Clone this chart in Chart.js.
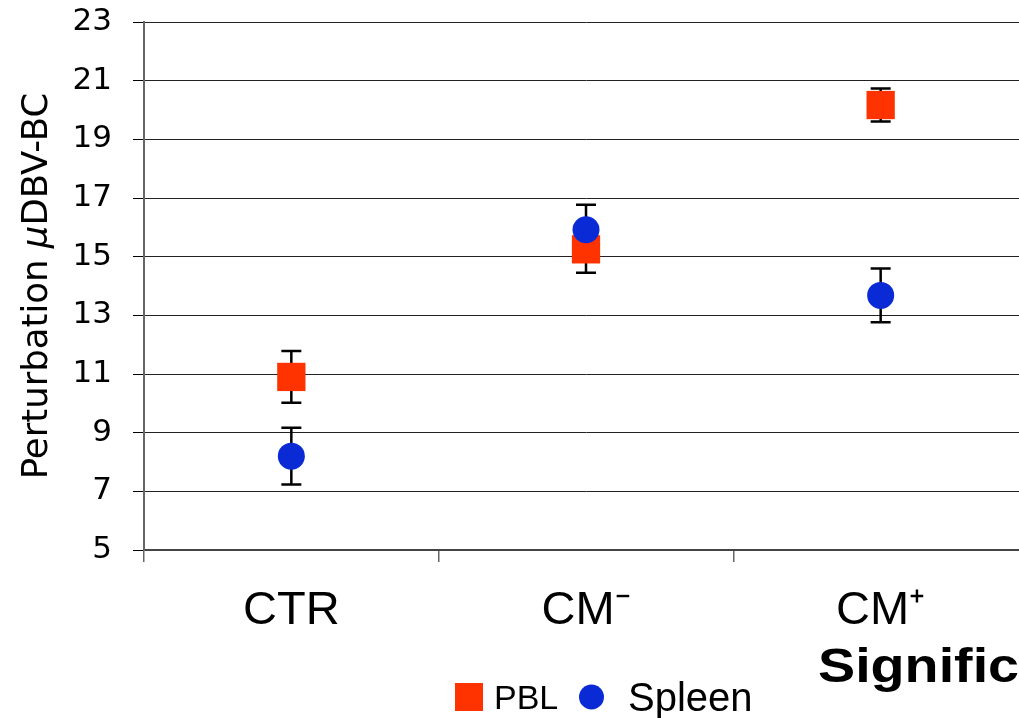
<!DOCTYPE html>
<html>
<head>
<meta charset="utf-8">
<script src="https://cdn.jsdelivr.net/npm/chart.js@4.4.1/dist/chart.umd.min.js"></script>
<style>
  html, body { margin: 0; padding: 0; background: #fff; overflow: hidden; width: 1019px; height: 718px; }
  #wrap { position: relative; width: 1040px; height: 718px; }
  #note {
    position: absolute; left: 818px; top: 638px;
    font: bold 48px "Liberation Sans", Arial, sans-serif;
    white-space: nowrap; transform-origin: 0 0; transform: scaleX(1.16);
  }
</style>
</head>
<body>
<div id="wrap">
  <canvas id="perturbChart" width="1040" height="718"></canvas>
  <div id="note">Significant</div>
</div>
<script>
const categories = ['CTR', 'CM\u207B', 'CM\u207A'];
const pblValues = [10.9, 15.25, 20.17];
const pblErrors = [0.88, 0.8, 0.56];
const spleenValues = [8.2, 15.92, 13.68];
const spleenErrors = [0.97, 0.85, 0.92];
const yTicks = [5, 7, 9, 11, 13, 15, 17, 19, 21, 23];

const errorBars = {
  id: 'errorBars',
  beforeDatasetsDraw(chart) {
    const ctx = chart.ctx;
    const y = chart.scales.y;
    ctx.save();
    ctx.strokeStyle = '#000';
    ctx.lineWidth = 2.5;
    chart.data.datasets.forEach((ds, i) => {
      const meta = chart.getDatasetMeta(i);
      meta.data.forEach((pt, j) => {
        const v = ds.data[j], e = ds.errors[j];
        const top = y.getPixelForValue(v + e);
        const bot = y.getPixelForValue(v - e);
        ctx.beginPath();
        ctx.moveTo(pt.x, top); ctx.lineTo(pt.x, bot);
        ctx.moveTo(pt.x - 10, top); ctx.lineTo(pt.x + 10, top);
        ctx.moveTo(pt.x - 10, bot); ctx.lineTo(pt.x + 10, bot);
        ctx.stroke();
      });
    });
    ctx.restore();
  }
};

// y title with italic mu, plus the bottom legend
const extras = {
  id: 'extras',
  afterDraw(chart) {
    const ctx = chart.ctx;
    const area = chart.chartArea;
    ctx.save();
    const parts = [
      ['Perturbation ', '35.5px "DejaVu Sans"'],
      ['\u03BC', 'italic 35.5px "DejaVu Sans"'],
      ['DBV-BC', '35.5px "DejaVu Sans"']
    ];
    let total = 0;
    parts.forEach(p => { ctx.font = p[1]; total += ctx.measureText(p[0]).width; });
    ctx.translate(47, (area.top + area.bottom) / 2);
    ctx.rotate(-Math.PI / 2);
    ctx.fillStyle = '#000';
    ctx.textBaseline = 'alphabetic';
    let x = -total / 2;
    parts.forEach(p => {
      ctx.font = p[1];
      ctx.fillText(p[0], x, 0);
      x += ctx.measureText(p[0]).width;
    });
    ctx.restore();

    const [pbl, spleen] = chart.data.datasets;
    ctx.save();
    ctx.fillStyle = pbl.backgroundColor;
    ctx.fillRect(455, 683, 28, 28);
    ctx.fillStyle = '#000';
    ctx.font = '34px "Liberation Sans", Arial, sans-serif';
    ctx.fillText(pbl.label, 494, 709);
    ctx.fillStyle = spleen.backgroundColor;
    ctx.beginPath();
    ctx.arc(591.5, 697, 12.5, 0, Math.PI * 2);
    ctx.fill();
    ctx.fillStyle = '#000';
    ctx.font = '40px "Liberation Sans", Arial, sans-serif';
    ctx.fillText(spleen.label, 628, 711);
    ctx.restore();
  }
};

new Chart(document.getElementById('perturbChart').getContext('2d'), {
  type: 'line',
  data: {
    labels: categories,
    datasets: [{
      label: 'PBL',
      data: pblValues,
      errors: pblErrors,
      showLine: false,
      pointStyle: 'rect',
      pointRadius: 20,
      pointBorderWidth: 0,
      backgroundColor: '#ff3300',
      borderColor: '#ff3300',
      order: 2
    }, {
      label: 'Spleen',
      data: spleenValues,
      errors: spleenErrors,
      showLine: false,
      pointStyle: 'circle',
      pointRadius: 13.5,
      pointBorderWidth: 0,
      backgroundColor: '#0a2ad6',
      borderColor: '#0a2ad6',
      order: 1
    }]
  },
  options: {
    responsive: false,
    animation: false,
    layout: { autoPadding: false, padding: { top: 22, right: 12, left: 0, bottom: 0 } },
    plugins: { legend: { display: false }, tooltip: { enabled: false } },
    scales: {
      x: {
        offset: true,
        grid: { offset: true, drawOnChartArea: false, drawTicks: true, tickLength: 12, color: '#666', lineWidth: 1.5 },
        border: { color: '#444', width: 2 },
        ticks: { color: '#000', padding: 21, font: { family: '"Liberation Sans", Arial, sans-serif', size: 47 } },
        afterFit(scale) {
          scale.height = 168;
          scale.paddingLeft = 0;
          scale.paddingRight = 0;
        }
      },
      y: {
        min: 5,
        max: 23,
        afterBuildTicks(scale) { scale.ticks = yTicks.map(v => ({ value: v })); },
        grid: { color: '#222', lineWidth: 1, tickLength: 11, tickColor: '#000' },
        border: { color: '#666', width: 2 },
        ticks: { color: '#000', padding: 21, font: { family: '"DejaVu Sans", sans-serif', size: 31 } },
        afterFit(scale) {
          scale.width = 144;
          scale.paddingTop = 0;
          scale.paddingBottom = 0;
        }
      }
    }
  },
  plugins: [errorBars, extras]
});
</script>
</body>
</html>
